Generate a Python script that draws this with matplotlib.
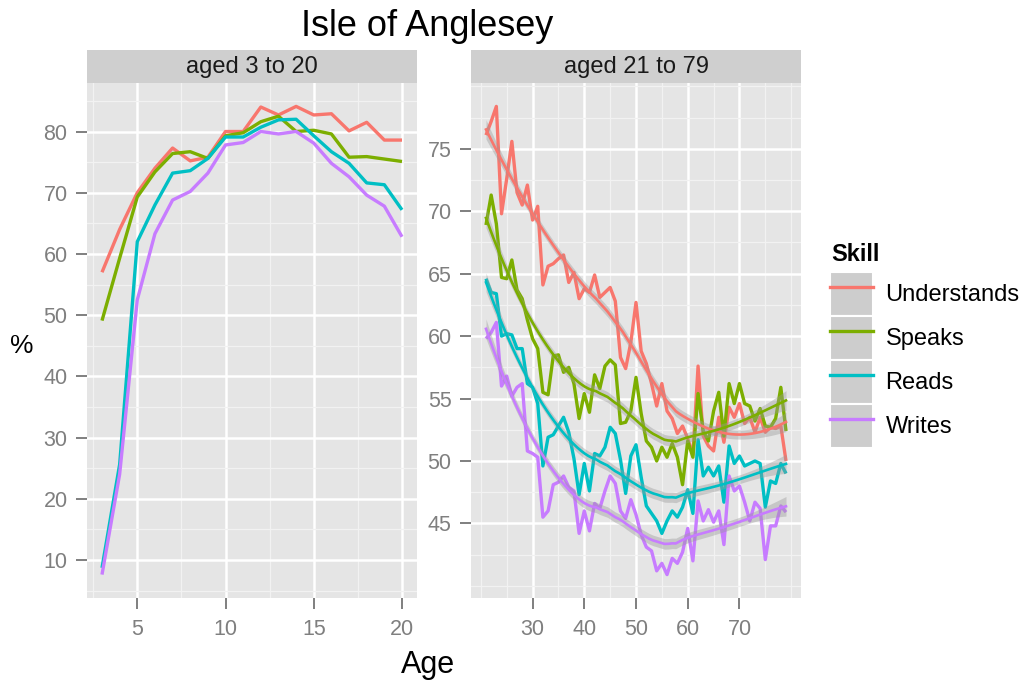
import numpy as np
import matplotlib.pyplot as plt
from matplotlib.patches import Patch
from matplotlib.lines import Line2D

plt.rcParams['font.family'] = ['Liberation Sans', 'DejaVu Sans']

skills = ['Understands', 'Speaks', 'Reads', 'Writes']
colours = ['#F8766D', '#7CAE00', '#00BFC4', '#C77CFF']

ages_young = np.arange(3, 21)
understands_young = [57.0, 64.0, 70.0, 74.0, 77.3, 75.2, 75.8, 80.0, 80.0,
                     84.0, 82.7, 84.1, 82.7, 82.9, 80.1, 81.5, 78.6, 78.6]
speaks_young = [49.1, 59.3, 69.3, 73.4, 76.4, 76.7, 75.6, 79.3, 79.8,
                81.6, 82.5, 80.0, 80.2, 79.6, 75.8, 75.9, 75.5, 75.1]
reads_young = [8.7, 25.6, 62.0, 68.0, 73.2, 73.6, 75.6, 79.1, 79.1,
               80.7, 81.9, 82.0, 79.3, 76.7, 74.8, 71.6, 71.3, 67.2]
writes_young = [7.6, 24.0, 52.5, 63.3, 68.8, 70.2, 73.2, 77.8, 78.2,
                80.0, 79.6, 80.0, 78.1, 74.8, 72.6, 69.6, 67.8, 62.8]

ages_old = np.arange(21, 80)
understands_old = [76.1, 77.2, 78.4, 69.8, 72.6, 75.6, 71.5, 70.5, 72.1, 69.3,
                   70.4, 64.1, 65.6, 65.8, 66.2, 66.5, 64.3, 65.1, 63.0, 63.8,
                   63.5, 64.9, 63.1, 63.5, 63.9, 62.8, 58.3, 57.4, 59.5, 62.7,
                   58.8, 57.8, 56.2, 54.4, 56.2, 54.0, 53.4, 52.2, 52.8, 51.8,
                   50.5, 57.6, 52.0, 51.2, 50.8, 53.5, 51.5, 54.3, 53.5, 54.6,
                   53.0, 53.5, 52.3, 53.5, 52.3, 52.7, 52.6, 52.8, 50.0]
speaks_old = [68.9, 71.3, 69.0, 64.7, 64.6, 66.1, 63.7, 63.0, 61.3, 59.8,
              59.0, 55.5, 55.3, 58.4, 58.5, 57.1, 57.5, 56.2, 53.4, 55.4,
              53.9, 56.9, 55.8, 57.6, 58.1, 57.7, 53.0, 53.1, 54.0, 56.7,
              53.8, 51.6, 51.1, 50.0, 51.1, 50.3, 51.4, 50.3, 48.1, 51.6,
              50.3, 55.4, 52.4, 51.6, 54.0, 55.5, 52.0, 56.2, 54.6, 56.2,
              54.6, 54.4, 53.2, 54.2, 52.8, 52.7, 53.4, 55.9, 52.4]
reads_old = [64.6, 63.5, 63.4, 60.0, 60.2, 60.1, 59.0, 59.0, 56.2, 55.9,
             54.6, 49.6, 51.9, 52.1, 52.8, 53.5, 52.3, 50.2, 47.3, 49.8,
             47.6, 50.6, 50.4, 51.1, 52.7, 52.2, 50.1, 47.4, 50.4, 51.3,
             48.7, 46.4, 45.8, 45.2, 44.2, 45.2, 46.0, 45.5, 46.3, 47.7,
             45.8, 51.7, 48.8, 49.5, 48.8, 49.6, 46.7, 51.2, 49.8, 50.4,
             49.6, 49.8, 50.0, 49.8, 46.3, 48.4, 48.2, 49.8, 49.0]
writes_old = [59.8, 60.3, 61.1, 56.0, 56.8, 55.2, 55.9, 56.2, 50.8, 50.6,
              50.3, 45.5, 46.0, 48.1, 48.3, 48.8, 47.9, 47.6, 44.2, 46.0,
              44.4, 46.6, 46.2, 47.6, 48.8, 48.2, 46.0, 45.4, 46.9, 45.7,
              44.1, 43.1, 42.8, 41.2, 41.8, 40.9, 42.2, 41.8, 42.7, 44.6,
              42.0, 46.8, 45.2, 46.1, 45.1, 46.0, 43.3, 48.8, 47.6, 48.0,
              46.7, 45.2, 46.7, 46.2, 42.1, 44.8, 44.8, 46.4, 45.9]

young = [understands_young, speaks_young, reads_young, writes_young]
old = [understands_old, speaks_old, reads_old, writes_old]

W, H = 1027, 686
PANEL_BG = '#E5E5E5'
STRIP_BG = '#CFCFCF'
TICK_GREY = '#7F7F7F'


def box(left, top, right, bottom):
    # пиксели картинки -> доли фигуры
    return [left / W, 1 - bottom / H, (right - left) / W, (bottom - top) / H]


def t_quantile(df, z):
    # приближение Корниша-Фишера для квантиля t
    g1 = (z ** 3 + z) / 4
    g2 = (5 * z ** 5 + 16 * z ** 3 + 3 * z) / 96
    return z + g1 / df + g2 / df ** 2


def loess(x, y, x_new, span=0.75, z=0.85):
    # локальная квадратичная регрессия, как geom_smooth(method='loess');
    # полоса уже, чем 95% - так она выглядит на исходнике
    x = np.asarray(x, float)
    y = np.asarray(y, float)
    n = len(x)
    q = int(np.floor(n * span))

    def row(x0):
        d = np.abs(x - x0)
        h = np.sort(d)[q - 1]
        w = np.clip(1 - (d / h) ** 3, 0, None) ** 3
        X = np.column_stack([np.ones(n), x - x0, (x - x0) ** 2])
        XtW = X.T * w
        return np.linalg.solve(XtW @ X, XtW)[0]

    L = np.array([row(x0) for x0 in x])
    L_new = np.array([row(x0) for x0 in x_new])
    I_L = np.eye(n) - L
    R = I_L.T @ I_L
    delta1 = np.trace(R)
    delta2 = np.trace(R @ R)
    s = np.sqrt(np.sum((I_L @ y) ** 2) / delta1)
    fit = L_new @ y
    se = s * np.sqrt(np.sum(L_new ** 2, axis=1))
    t = t_quantile(delta1 ** 2 / delta2, z)
    return fit, fit - t * se, fit + t * se


def expand(lo, hi, frac=0.05):
    pad = (hi - lo) * frac
    return lo - pad, hi + pad


def style_panel(ax, xmajor, xminor, ymajor, yminor):
    ax.set_facecolor(PANEL_BG)
    for sp in ax.spines.values():
        sp.set_visible(False)
    ax.set_xticks(xmajor)
    ax.set_xticks(xminor, minor=True)
    ax.set_yticks(ymajor)
    ax.set_yticks(yminor, minor=True)
    ax.grid(which='minor', color='#F2F2F2', lw=0.9)
    ax.grid(which='major', color='white', lw=1.8)
    ax.set_axisbelow(True)
    ax.tick_params(which='minor', length=0)
    ax.tick_params(which='major', length=8, width=1.4, color=TICK_GREY,
                   labelcolor=TICK_GREY, labelsize=15.5)
    ax.tick_params(axis='x', pad=7)
    ax.tick_params(axis='y', pad=6)


def add_strip(rect, text):
    sax = fig.add_axes(rect)
    sax.set_facecolor(STRIP_BG)
    sax.set_xticks([])
    sax.set_yticks([])
    for sp in sax.spines.values():
        sp.set_visible(False)
    sax.text(0.5, 0.5, text, ha='center', va='center', size=17,
             color='#1A1A1A', transform=sax.transAxes)


fig = plt.figure(figsize=(W / 100, H / 100), dpi=100)

# левая панель: 3-20 лет
ax_l = fig.add_axes(box(87, 83, 417, 598))
for vals, c in zip(young, colours):
    ax_l.plot(ages_young, vals, color=c, lw=2.4, solid_capstyle='butt')
all_young = np.concatenate(young)
ax_l.set_xlim(*expand(ages_young.min(), ages_young.max()))
ax_l.set_ylim(*expand(all_young.min(), all_young.max()))
style_panel(ax_l, [5, 10, 15, 20], [2.5, 7.5, 12.5, 17.5],
            np.arange(10, 81, 10), np.arange(5, 90, 10))

# правая панель: 21-79 лет, с loess и полосой
ax_r = fig.add_axes(box(471, 83, 801, 598))
grid_x = np.linspace(ages_old.min(), ages_old.max(), 80)
lows, highs = [], []
for vals, c in zip(old, colours):
    ax_r.plot(ages_old, vals, color=c, lw=2.4, solid_capstyle='butt', zorder=2)
for vals, c in zip(old, colours):
    fit, lo, hi = loess(ages_old, vals, grid_x)
    lows.append(lo.min())
    highs.append(hi.max())
    ax_r.fill_between(grid_x, lo, hi, color='#999999', alpha=0.4, lw=0, zorder=3)
    ax_r.plot(grid_x, fit, color=c, lw=1.9, zorder=4)
all_old = np.concatenate(old)
ax_r.set_xlim(*expand(ages_old.min(), ages_old.max()))
ax_r.set_ylim(*expand(min(all_old.min(), min(lows)), max(all_old.max(), max(highs))))
style_panel(ax_r, [30, 40, 50, 60, 70], [20, 25, 35, 45, 55, 65, 75, 80],
            np.arange(45, 76, 5), np.arange(40, 81, 2.5))

add_strip(box(87, 50, 417, 83), 'aged 3 to 20')
add_strip(box(471, 50, 801, 83), 'aged 21 to 79')

fig.text(427 / W, 1 - 27 / H, 'Isle of Anglesey', ha='center', va='center', size=26)
fig.text(22 / W, 1 - 346 / H, '%', ha='center', va='center', size=19)
fig.text(428 / W, 1 - 665 / H, 'Age', ha='center', va='center', size=22)

# легенда: серый ключ (как у geom_smooth) + линия цвета
fig.text(831 / W, 1 - 254 / H, 'Skill', ha='left', va='center', size=17,
         weight='bold')
handles = [(Patch(facecolor='#CDCDCD', edgecolor='white', lw=1.5),
            Line2D([], [], color=c, lw=2.4)) for c in colours]
leg = fig.legend(handles, skills, loc='upper left',
                 bbox_to_anchor=(830 / W, 1 - 272 / H), frameon=False,
                 fontsize=17, handlelength=1.8, handleheight=2.49,
                 handletextpad=0.55, labelspacing=0, borderpad=0,
                 borderaxespad=0)

fig.savefig('out.png', dpi=100)
